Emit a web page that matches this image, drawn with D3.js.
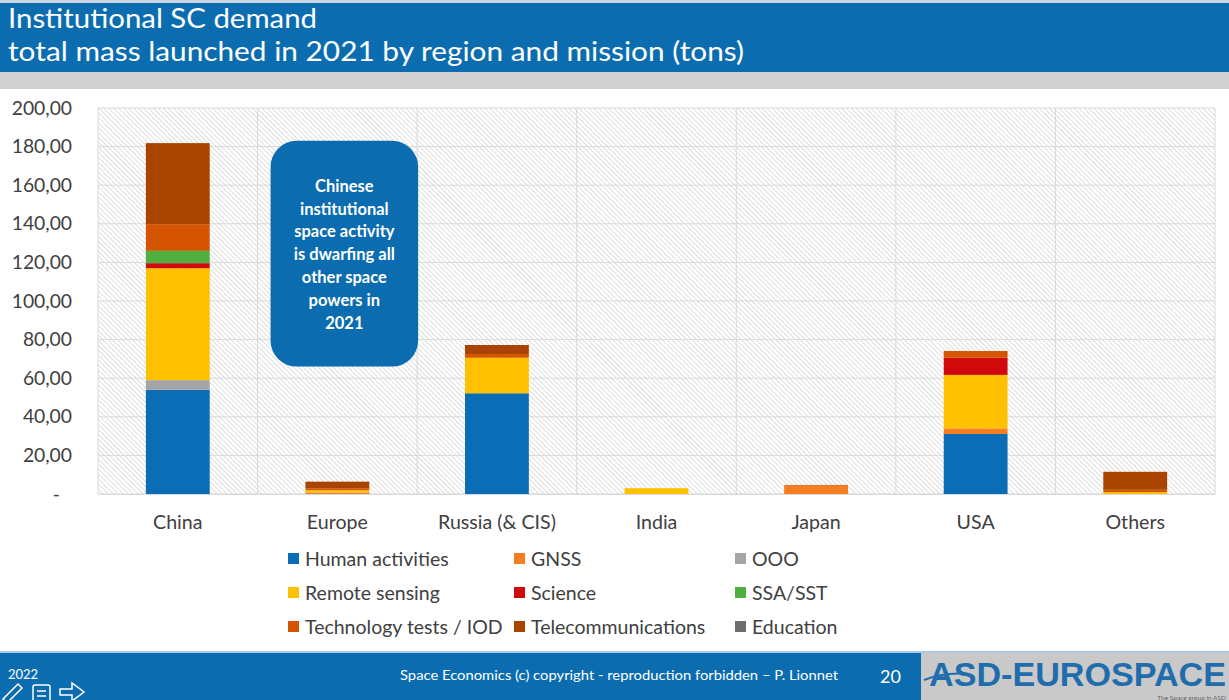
<!DOCTYPE html>
<html>
<head>
<meta charset="utf-8">
<script src="https://cdn.jsdelivr.net/npm/d3@7"></script>
<style>
  body { margin: 0; background: #fff; }
  svg { display: block; }
  text { font-family: Lato, "Open Sans", sans-serif; }
</style>
</head>
<body>
<script>
// chart data (tons launched in 2021)
const regions = ["China", "Europe", "Russia (& CIS)", "India", "Japan", "USA", "Others"];
const missions = ["Human activities", "GNSS", "OOO", "Remote sensing", "Science",
                  "SSA/SST", "Technology tests / IOD", "Telecommunications", "Education"];
const missionColors = ["#0B6DB5", "#F57F20", "#A5A5A5", "#FFC000", "#D00A0A",
                       "#4FAF3F", "#D55400", "#A84300", "#6E6E6E"];

const humanActivities = [54.0, 0,   52.2, 0,   0,   31.1, 0];
const gnss            = [0,    0.8, 0,    0,   4.3, 2.9,  0];
const ooo             = [5.0,  0,   0,    0,   0,   0,    0];
const remoteSensing   = [58.0, 1.2, 18.4, 3.0, 0,   27.7, 1.0];
const science         = [2.6,  0,   0,    0,   0,   8.9,  0];
const ssaSst          = [6.4,  0,   0,    0,   0,   0,    0];
const techTests       = [13.8, 0.8, 1.9,  0,   0.4, 3.5,  1.2];
const telecoms        = [42.0, 3.6, 4.7,  0,   0,   0,    9.3];
const education       = [0,    0,   0,    0,   0,   0,    0];

const yTicks = [0, 20, 40, 60, 80, 100, 120, 140, 160, 180, 200];
const calloutLines = ["Chinese", "institutional", "space activity", "is dwarfing all",
                      "other space", "powers in", "2021"];

const seriesValues = [humanActivities, gnss, ooo, remoteSensing, science,
                      ssaSst, techTests, telecoms, education];

// table for d3.stack
const table = regions.map((r, i) => {
  const row = { region: r };
  missions.forEach((m, j) => row[m] = seriesValues[j][i]);
  return row;
});

const W = 1229, H = 700;
const margin = { top: 108, right: 14, bottom: 206, left: 98 };
const width = W - margin.left - margin.right,
      height = H - margin.top - margin.bottom;

const svg = d3.select("body").append("svg")
    .attr("width", W)
    .attr("height", H);

// hatch pattern for plot background
const defs = svg.append("defs");
defs.append("pattern")
    .attr("id", "hatch")
    .attr("patternUnits", "userSpaceOnUse")
    .attr("width", 3.5).attr("height", 3.5)
    .attr("patternTransform", "rotate(-45)")
  .append("line")
    .attr("x1", 0).attr("y1", 0).attr("x2", 0).attr("y2", 3.5)
    .attr("stroke", "#c4c4c4").attr("stroke-width", 1.1);

// header
svg.append("rect").attr("x", 0).attr("y", 0).attr("width", W).attr("height", 3).attr("fill", "#c9d6e3");
svg.append("rect").attr("x", 0).attr("y", 3).attr("width", W).attr("height", 69).attr("fill", "#0B6DB0");
svg.append("rect").attr("x", 0).attr("y", 72).attr("width", W).attr("height", 17).attr("fill", "#d0d0d0");
svg.append("text").attr("x", 8).attr("y", 28)
    .attr("fill", "#fff").style("font-size", "27px")
    .attr("textLength", 309).attr("lengthAdjust", "spacingAndGlyphs")
    .text("Institutional SC demand");
svg.append("text").attr("x", 8).attr("y", 61)
    .attr("fill", "#fff").style("font-size", "27px")
    .attr("textLength", 736).attr("lengthAdjust", "spacingAndGlyphs")
    .text("total mass launched in 2021 by region and mission (tons)");

const g = svg.append("g").attr("transform", `translate(${margin.left},${margin.top})`);

const x = d3.scaleBand().domain(regions).range([0, width]).paddingInner(0).paddingOuter(0);
const y = d3.scaleLinear().domain([0, 200]).range([height, 0]);

g.append("rect")
    .attr("width", width).attr("height", height)
    .attr("fill", "url(#hatch)");

// grid
g.selectAll(".hgrid").data(yTicks).enter().append("line")
    .attr("x1", 0).attr("x2", width)
    .attr("y1", d => y(d)).attr("y2", d => y(d))
    .attr("stroke", "#d9d9d9").attr("stroke-width", 1);
g.selectAll(".vgrid").data(regions.concat(["end"])).enter().append("line")
    .attr("x1", (d, i) => i * x.step()).attr("x2", (d, i) => i * x.step())
    .attr("y1", 0).attr("y2", height)
    .attr("stroke", "#d9d9d9").attr("stroke-width", 1);

// y axis
const fmt = d => d === 0 ? "-" : d3.format(".2f")(d).replace(".", ",");
const yAxis = g.append("g")
    .call(d3.axisLeft(y).tickValues(yTicks).tickFormat(fmt).tickSize(0).tickPadding(26));
yAxis.select(".domain").remove();
yAxis.selectAll("text")
    .attr("fill", "#404040").style("font-size", "19.3px")
    .attr("dx", d => d === 0 ? "-12px" : 0);

// x axis
const xAxis = g.append("g")
    .attr("transform", `translate(0,${height})`)
    .call(d3.axisBottom(x).tickSize(0).tickPadding(21));
xAxis.select(".domain").attr("stroke", "#d9d9d9");
xAxis.selectAll("text").attr("fill", "#404040").style("font-size", "19.6px");

// bars
const stacked = d3.stack().keys(missions)(table);
const barW = x.bandwidth() * 0.4;
g.selectAll(".series").data(stacked).enter().append("g")
    .attr("fill", (d, i) => missionColors[i])
  .selectAll("rect").data(d => d).enter().append("rect")
    .attr("x", d => x(d.data.region) + (x.bandwidth() - barW) / 2)
    .attr("width", barW)
    .attr("y", d => y(d[1]))
    .attr("height", d => y(d[0]) - y(d[1]));

// callout
const cx0 = x("Europe") + 13, cw = x.bandwidth() - 12;
const cy0 = y(183), ch = y(66) - y(183);
g.append("rect")
    .attr("x", cx0).attr("y", cy0).attr("width", cw).attr("height", ch)
    .attr("rx", 26).attr("ry", 26)
    .attr("fill", "#0B6DB0");
g.append("g").selectAll("text").data(calloutLines).enter().append("text")
    .attr("x", cx0 + cw / 2)
    .attr("y", (d, i) => cy0 + 51 + i * 22.8)
    .attr("text-anchor", "middle")
    .attr("fill", "#fff")
    .style("font-size", "16.5px").style("font-weight", "bold")
    .text(d => d);

// legend
const legCols = [288, 514, 735];
const legRows = [559, 593, 627];
const legend = svg.append("g").selectAll("g").data(missions).enter().append("g")
    .attr("transform", (d, i) => `translate(${legCols[i % 3]},${legRows[Math.floor(i / 3)]})`);
legend.append("rect")
    .attr("x", 0).attr("y", -6).attr("width", 11).attr("height", 11)
    .attr("fill", (d, i) => missionColors[i]);
legend.append("text")
    .attr("x", 17).attr("y", 7)
    .attr("fill", "#404040").style("font-size", "19.5px")
    .text(d => d);

// footer
svg.append("rect").attr("x", 0).attr("y", 651).attr("width", W).attr("height", 2).attr("fill", "#a9c9e4");
svg.append("rect").attr("x", 0).attr("y", 653).attr("width", W).attr("height", 47).attr("fill", "#0B6DB0");
svg.append("text").attr("x", 8).attr("y", 679)
    .attr("fill", "#fff").style("font-size", "13px").text("2022");
svg.append("text").attr("x", 400).attr("y", 680)
    .attr("fill", "#fff").style("font-size", "14px")
    .attr("textLength", 438).attr("lengthAdjust", "spacingAndGlyphs")
    .text("Space Economics (c) copyright - reproduction forbidden \u2013 P. Lionnet");
svg.append("text").attr("x", 880).attr("y", 683)
    .attr("fill", "#fff").style("font-size", "18px").text("20");
svg.append("rect").attr("x", 921).attr("y", 653).attr("width", W - 921).attr("height", 47).attr("fill", "#c9c9c9");
svg.append("text").attr("x", 929).attr("y", 686)
    .attr("fill", "#1F6DAD").style("font-size", "33px").style("font-weight", "bold")
    .style("font-family", "'Liberation Sans Narrow', sans-serif")
    .attr("textLength", 297).attr("lengthAdjust", "spacingAndGlyphs")
    .text("ASD-EUROSPACE");
svg.append("path").attr("d", "M924,680 Q945,672 968,674")
    .attr("fill", "none").attr("stroke", "#1F6DAD").attr("stroke-width", 2);
svg.append("text").attr("x", 1226).attr("y", 699.5).attr("text-anchor", "end")
    .attr("fill", "#666").style("font-size", "6.5px").text("The Space group in ASD");

// nav icons (bottom left)
const nav = svg.append("g").attr("fill", "none").attr("stroke", "#fff").attr("stroke-width", 1.5);
nav.append("path").attr("d", "M3,699 L18,684 L22,688 L7,703 Z").attr("fill", "#0B6DB0");
nav.append("rect").attr("x", 33).attr("y", 685).attr("width", 17).attr("height", 18).attr("rx", 2).attr("fill", "#0B6DB0");
nav.append("path").attr("d", "M37,691 H46 M37,696 H46");
nav.append("path").attr("d", "M60,689 H72 V683 L84,692 L72,701 V695 H60 Z").attr("fill", "#0B6DB0");
</script>
</body>
</html>
